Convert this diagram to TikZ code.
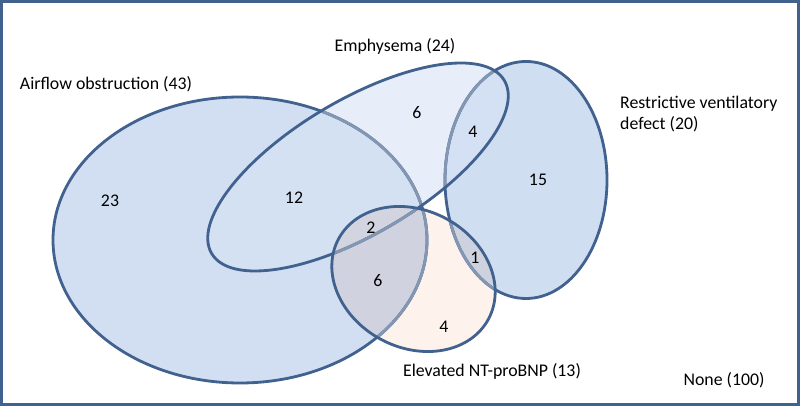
\documentclass[tikz,border=0pt]{standalone}
\usepackage{fontspec}
\setmainfont{Carlito}
\definecolor{edge}{HTML}{41618F}
\definecolor{lightedge}{HTML}{8396B2}
\definecolor{airfill}{HTML}{D2DFF2}
\definecolor{restfill}{HTML}{D0DEF2}
\definecolor{emphfill}{HTML}{D7E3F5}
\definecolor{ntfill}{HTML}{FDF2EC}
\tikzset{
  airshape/.style={shift={(240,166)}},
  restshape/.style={shift={(526,226)}},
  emphshape/.style={shift={(358,239)}, rotate=30.6},
  ntshape/.style={shift={(413.5,127)}, rotate=-28},
  darkline/.style={draw=edge, line width=2.8pt},
  paleline/.style={draw=lightedge, line width=2.8pt},
  lbl/.style={inner sep=0pt, font=\fontsize{17.8}{21.5}\selectfont, text=black}
}
\newcommand\airE{(0,0) ellipse [x radius=187, y radius=143]}
\newcommand\restE{(0,0) ellipse [x radius=81, y radius=118.5]}
\newcommand\emphE{(0,0) ellipse [x radius=170, y radius=67]}
\newcommand\ntE{(0,0) ellipse [x radius=85, y radius=68.6]}
\begin{document}
\begin{tikzpicture}[x=1pt,y=1pt]
\useasboundingbox (0,0) rectangle (800,406);
\fill[white] (0,0) rectangle (800,406);
% fills
\fill[airfill, airshape] \airE;
\fill[restfill, restshape] \restE;
\fill[emphfill, fill opacity=0.58, emphshape] \emphE;
\begin{scope}[blend mode=multiply]
  \fill[ntfill, ntshape] \ntE;
\end{scope}
% airflow outline
\draw[darkline, airshape] \airE;
\begin{scope}\clip[emphshape] \emphE; \draw[paleline, airshape] \airE; \end{scope}
\begin{scope}\clip[ntshape] \ntE; \draw[paleline, airshape] \airE; \end{scope}
% restrictive outline
\draw[darkline, restshape] \restE;
\begin{scope}\clip[emphshape] \emphE; \draw[paleline, restshape] \restE; \end{scope}
\begin{scope}\clip[ntshape] \ntE; \draw[paleline, restshape] \restE; \end{scope}
% emphysema outline
\draw[darkline, emphshape] \emphE;
\begin{scope}\clip[ntshape] \ntE; \draw[paleline, emphshape] \emphE; \end{scope}
% NT-proBNP outline
\draw[darkline, ntshape] \ntE;
% frame
\draw[edge, line width=3pt] (1.5,1.5) rectangle (798.5,404.5);
% labels
\node[lbl] (lair) at (106,322) {Airflow obstruction (43)};
\node[lbl] (lemph) at (395,360) {Emphysema (24)};
\node[lbl, anchor=west, align=left] (lrest) at (620,292) {Restrictive ventilatory\\defect (20)};
\node[lbl] (lnt) at (492,35) {Elevated NT-proBNP (13)};
\node[lbl] (lnone) at (724,26) {None (100)};
% counts
\node[lbl] (n23) at (110,205) {23};
\node[lbl] (n12) at (294,208) {12};
\node[lbl] (n6a) at (417,293) {6};
\node[lbl] (n4a) at (473,274) {4};
\node[lbl] (n15) at (538,226) {15};
\node[lbl] (n2) at (371,178) {2};
\node[lbl] (n6b) at (378,125) {6};
\node[lbl] (n1) at (475,148) {1};
\node[lbl] (n4b) at (444,79) {4};
\end{tikzpicture}
\end{document}
